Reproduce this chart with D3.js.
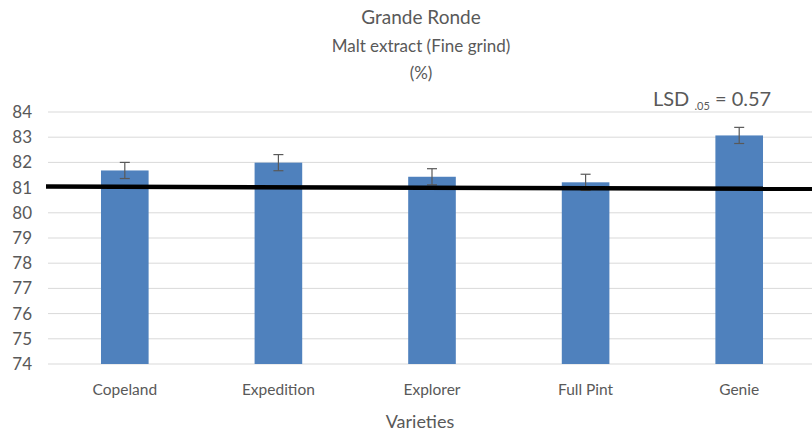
<!DOCTYPE html>
<html>
<head>
<meta charset="utf-8">
<script src="https://cdn.jsdelivr.net/npm/d3@7"></script>
<style>
  body { margin: 0; background: #fff; }
  svg { display: block; font-family: Lato, "Open Sans", sans-serif; }
</style>
</head>
<body>
<svg id="chart" width="812" height="433"></svg>
<script>
// ---------- Data ----------
const varieties = ['Copeland', 'Expedition', 'Explorer', 'Full Pint', 'Genie'];
const extract = [81.68, 81.99, 81.43, 81.21, 83.07];
const errors = [0.32, 0.32, 0.32, 0.32, 0.32];
const yTicks = [74, 75, 76, 77, 78, 79, 80, 81, 82, 83, 84];
const meanLine = [81.04, 80.95]; // thick black line, left end / right end
const lsdValue = 0.57;

const svg = d3.select('#chart');
const margin = { top: 112, right: -4, bottom: 69, left: 48 };
const width = 812 - margin.left - margin.right;
const height = 433 - margin.top - margin.bottom;

const g = svg.append('g').attr('transform', `translate(${margin.left},${margin.top})`);

const x = d3.scaleBand().domain(varieties).range([0, width]).paddingInner(0.69).paddingOuter(0.345);
const y = d3.scaleLinear().domain([74, 84]).range([height, 0]);

// ---------- Grid ----------
g.append('g')
  .selectAll('line')
  .data(yTicks)
  .join('line')
  .attr('x1', 0).attr('x2', width)
  .attr('y1', d => y(d)).attr('y2', d => y(d))
  .attr('stroke', '#d9d9d9')
  .attr('stroke-width', 1);

// y tick labels
g.append('g')
  .selectAll('text')
  .data(yTicks)
  .join('text')
  .attr('x', -16)
  .attr('y', d => y(d))
  .attr('dy', '0.35em')
  .attr('text-anchor', 'end')
  .attr('font-size', 17)
  .attr('fill', '#595959')
  .text(d => d);

// ---------- Bars ----------
g.append('g')
  .selectAll('rect')
  .data(varieties)
  .join('rect')
  .attr('x', d => x(d))
  .attr('width', x.bandwidth())
  .attr('y', (d, i) => y(extract[i]))
  .attr('height', (d, i) => height - y(extract[i]))
  .attr('fill', '#4f81bd');

// ---------- Error bars ----------
const eb = g.append('g').attr('stroke', '#595959').attr('stroke-width', 1.2);
varieties.forEach((v, i) => {
  const cx = x(v) + x.bandwidth() / 2;
  const lo = y(extract[i] - errors[i]);
  const hi = y(extract[i] + errors[i]);
  eb.append('line').attr('x1', cx).attr('x2', cx).attr('y1', lo).attr('y2', hi);
  eb.append('line').attr('x1', cx - 5).attr('x2', cx + 5).attr('y1', lo).attr('y2', lo);
  eb.append('line').attr('x1', cx - 5).attr('x2', cx + 5).attr('y1', hi).attr('y2', hi);
});

// ---------- Mean line ----------
g.append('line')
  .attr('x1', -2).attr('x2', 812 - margin.left)
  .attr('y1', y(meanLine[0])).attr('y2', y(meanLine[1]))
  .attr('stroke', '#000')
  .attr('stroke-width', 4.5);

// ---------- x labels ----------
g.append('g')
  .selectAll('text')
  .data(varieties)
  .join('text')
  .attr('x', d => x(d) + x.bandwidth() / 2)
  .attr('y', height + 31)
  .attr('text-anchor', 'middle')
  .attr('font-size', 15.5)
  .attr('fill', '#595959')
  .text(d => d);

// ---------- Titles ----------
svg.append('text').attr('x', 421).attr('y', 24).attr('text-anchor', 'middle')
  .attr('font-size', 19).attr('fill', '#595959').text('Grande Ronde');
svg.append('text').attr('x', 421).attr('y', 52).attr('text-anchor', 'middle')
  .attr('font-size', 17).attr('fill', '#595959').text('Malt extract (Fine grind)');
svg.append('text').attr('x', 421).attr('y', 79).attr('text-anchor', 'middle')
  .attr('font-size', 17).attr('fill', '#595959').text('(%)');
svg.append('text').attr('x', 420).attr('y', 428).attr('text-anchor', 'middle')
  .attr('font-size', 18).attr('fill', '#595959').text('Varieties');

// LSD annotation
const lsd = svg.append('text').attr('x', 653).attr('y', 106)
  .attr('font-size', 20).attr('fill', '#595959');
lsd.append('tspan').text('LSD ');
lsd.append('tspan').attr('font-size', 11).attr('dy', 4).text('.05');
lsd.append('tspan').attr('dy', -4).text(` = ${lsdValue}`);
</script>
</body>
</html>
